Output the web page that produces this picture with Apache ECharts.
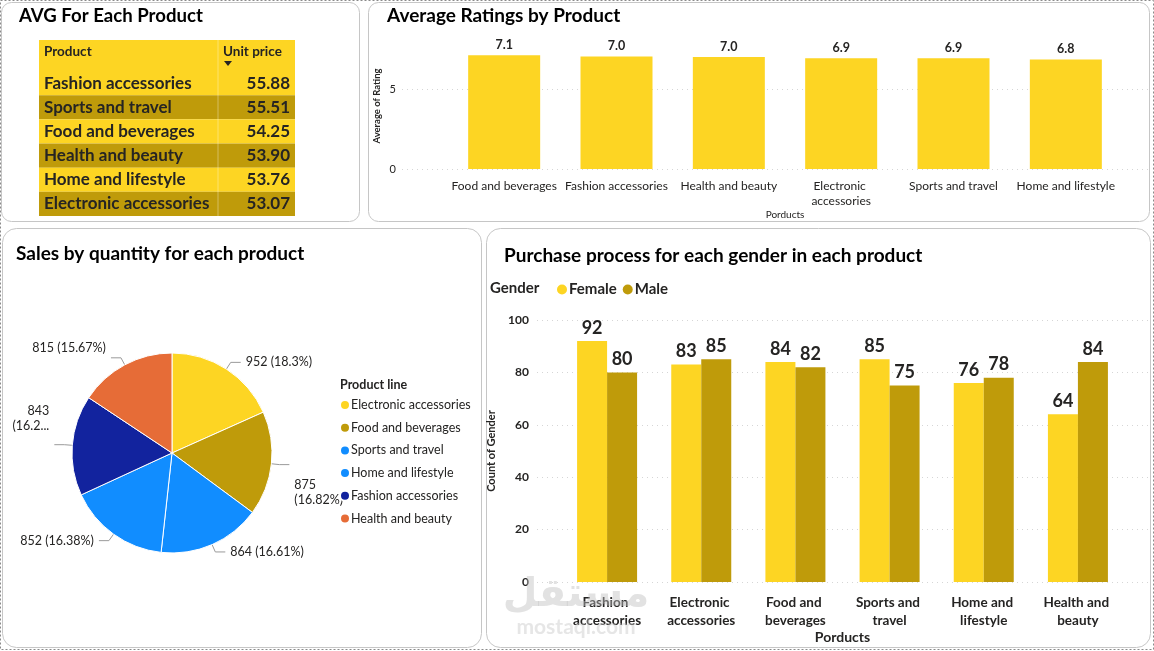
<!DOCTYPE html>
<html>
<head>
<meta charset="utf-8">
<script src="https://cdn.jsdelivr.net/npm/echarts@6/dist/echarts.min.js"></script>
<style>
html, body { margin: 0; padding: 0; background: #fff; }
#main { width: 1154px; height: 651px; }
</style>
</head>
<body>
<div id="main"></div>
<script>
// table: average unit price
var tableProducts = ['Fashion accessories', 'Sports and travel', 'Food and beverages', 'Health and beauty', 'Home and lifestyle', 'Electronic accessories'];
var tablePrices = [55.88, 55.51, 54.25, 53.90, 53.76, 53.07];

// average rating by product
var ratingProducts = ['Food and beverages', 'Fashion accessories', 'Health and beauty', 'Electronic accessories', 'Sports and travel', 'Home and lifestyle'];
var ratingValues = [7.11, 7.03, 7.00, 6.92, 6.92, 6.84];

// quantity by product line (pie)
var pieNames = ['Electronic accessories', 'Food and beverages', 'Sports and travel', 'Home and lifestyle', 'Fashion accessories', 'Health and beauty'];
var pieValues = [952, 875, 864, 852, 843, 815];

// gender count by product
var genderProducts = ['Fashion accessories', 'Electronic accessories', 'Food and beverages', 'Sports and travel', 'Home and lifestyle', 'Health and beauty'];
var femaleCounts = [92, 83, 84, 85, 76, 64];
var maleCounts = [80, 85, 82, 75, 78, 84];

var YELLOW = '#FDD523';
var GOLD = '#BF9B0A';
var TXT = '#252423';
var FONT = 'Lato, "Open Sans", sans-serif';
var pieColors = [YELLOW, GOLD, '#118DFF', '#118DFF', '#12239E', '#E66C37'];

var chart = echarts.init(document.getElementById('main'));

// panels + titles
var graphics = [
    { type: 'rect', silent: true, shape: { x: 0.5, y: 0.5, width: 1153, height: 649 }, style: { fill: 'none', stroke: '#8a8a8a', lineDash: [2, 2] } },
    { type: 'rect', silent: true, shape: { x: 1.5, y: 2.5, width: 358, height: 219, r: 10 }, style: { fill: '#fff', stroke: '#c6c6c6' } },
    { type: 'rect', silent: true, shape: { x: 368.5, y: 2.5, width: 781, height: 219, r: 10 }, style: { fill: '#fff', stroke: '#c6c6c6' } },
    { type: 'rect', silent: true, shape: { x: 2.5, y: 228.5, width: 479, height: 419, r: 14 }, style: { fill: '#fff', stroke: '#c6c6c6' } },
    { type: 'rect', silent: true, shape: { x: 486.5, y: 228.5, width: 664, height: 419, r: 14 }, style: { fill: '#fff', stroke: '#c6c6c6' } },
    { type: 'text', style: { text: 'AVG For Each Product', x: 19, y: 16, verticalAlign: 'middle', font: 'bold 18.6px ' + FONT, fill: '#000' } },
    { type: 'text', style: { text: 'Average Ratings by Product', x: 387, y: 16, verticalAlign: 'middle', font: 'bold 19px ' + FONT, fill: '#000' } },
    { type: 'text', style: { text: 'Sales by quantity for each product', x: 16, y: 254, verticalAlign: 'middle', font: 'bold 19px ' + FONT, fill: '#000' } },
    { type: 'text', style: { text: 'Purchase process for each gender in each product', x: 504, y: 256, verticalAlign: 'middle', font: 'bold 19px ' + FONT, fill: '#000' } },
    { type: 'text', style: { text: 'Average of Rating', x: 377, y: 106, align: 'center', verticalAlign: 'middle', font: 'bold 9.5px ' + FONT, fill: TXT }, rotation: Math.PI / 2, originX: 377, originY: 106 },
    { type: 'text', style: { text: 'Product line', x: 340, y: 385, verticalAlign: 'middle', font: 'bold 12.5px ' + FONT, fill: TXT } },
    { type: 'text', style: { text: 'Gender', x: 490, y: 288, verticalAlign: 'middle', font: 'bold 15px ' + FONT, fill: TXT } },
    // site watermark
    { type: 'text', silent: true, z: 100, style: { text: 'مستقل', x: 576, y: 596, align: 'center', verticalAlign: 'middle', font: 'bold 40px "DejaVu Sans", sans-serif', fill: 'rgba(190,190,190,0.45)' } },
    { type: 'text', silent: true, z: 100, style: { text: 'mostaql.com', x: 576, y: 627, align: 'center', verticalAlign: 'middle', font: 'bold 21px ' + FONT, fill: 'rgba(200,200,200,0.45)' } }
];

// table built from the arrays
var tX = 39, tW = 256, tTop = 40, headH = 31, rowH = 24.17, colX = 218;
graphics.push({ type: 'rect', silent: true, shape: { x: tX, y: tTop, width: tW, height: headH }, style: { fill: YELLOW } });
graphics.push({ type: 'text', style: { text: 'Product', x: 44, y: 52, verticalAlign: 'middle', font: 'bold 13.5px ' + FONT, fill: TXT } });
graphics.push({ type: 'text', style: { text: 'Unit price', x: 223, y: 52, verticalAlign: 'middle', font: 'bold 13.5px ' + FONT, fill: TXT } });
graphics.push({ type: 'polygon', silent: true, shape: { points: [[224, 61], [232, 61], [228, 66]] }, style: { fill: TXT } });
tableProducts.forEach(function (name, i) {
    var y = tTop + headH + i * rowH;
    graphics.push({ type: 'rect', silent: true, shape: { x: tX, y: y, width: tW, height: rowH }, style: { fill: i % 2 ? GOLD : YELLOW } });
    graphics.push({ type: 'text', style: { text: name, x: 44, y: y + rowH / 2, verticalAlign: 'middle', font: 'bold 17px ' + FONT, fill: TXT } });
    graphics.push({ type: 'text', style: { text: tablePrices[i].toFixed(2), x: 290, y: y + rowH / 2, align: 'right', verticalAlign: 'middle', font: 'bold 17px ' + FONT, fill: TXT } });
});
graphics.push({ type: 'line', silent: true, shape: { x1: colX, y1: tTop, x2: colX, y2: tTop + headH + rowH * tableProducts.length }, style: { stroke: 'rgba(255,255,255,0.35)', lineWidth: 1 } });

var pieTotal = pieValues.reduce(function (a, b) { return a + b; }, 0);
var cum = 0;
var pieData = pieNames.map(function (name, i) {
    var mid = (cum + pieValues[i] / 2) / pieTotal * Math.PI * 2;
    cum += pieValues[i];
    var side = Math.abs(Math.sin(mid)) > 0.95; // labels squeezed at the sides wrap
    return {
        name: name,
        value: pieValues[i],
        itemStyle: { color: pieColors[i] },
        label: { formatter: function (p) {
            var pct = parseFloat((p.value / pieTotal * 100).toFixed(2));
            return p.value + (side ? '\n' : ' ') + '(' + pct + '%)';
        } }
    };
});

var dotted = { show: true, lineStyle: { color: '#d6d6d6', type: [1, 4], width: 1 } };

chart.setOption({
    animation: false,
    textStyle: { fontFamily: FONT },
    graphic: graphics,
    legend: [
        {
            data: pieNames, orient: 'vertical', left: 334, top: 393,
            icon: 'circle', itemWidth: 10, itemHeight: 10, itemGap: 8.7,
            textStyle: { fontSize: 12.5, color: TXT, fontFamily: FONT, lineHeight: 14, padding: [0, 0, 0, -4] },
            selectedMode: false
        },
        {
            data: ['Female', 'Male'], left: 552, top: 277,
            icon: 'circle', itemWidth: 10, itemHeight: 10, itemGap: 6,
            textStyle: { fontSize: 15, fontWeight: 'bold', color: TXT, fontFamily: FONT, padding: [0, 0, 0, -3] },
            selectedMode: false
        }
    ],
    grid: [
        { left: 402, right: 6, top: 9, bottom: 482 },
        { left: 448, right: 32, top: 9, bottom: 482 },
        { left: 537, right: 6, top: 320, bottom: 69 },
        { left: 560, right: 29, top: 320, bottom: 69 }
    ],
    xAxis: [
        { gridIndex: 0, type: 'value', show: false },
        {
            gridIndex: 1, type: 'category', data: ratingProducts,
            axisLine: { show: false }, axisTick: { show: false },
            axisLabel: { margin: 10, fontSize: 12, color: TXT, lineHeight: 15, width: 108, overflow: 'break', interval: 0 },
            name: 'Porducts', nameLocation: 'middle', nameGap: 40,
            nameTextStyle: { fontSize: 10, color: TXT }
        },
        { gridIndex: 2, type: 'value', show: false },
        {
            gridIndex: 3, type: 'category', data: genderProducts,
            axisLine: { show: false }, axisTick: { show: false },
            axisLabel: { margin: 12, fontSize: 13.5, fontWeight: 'bold', color: TXT, lineHeight: 18, width: 80, overflow: 'break', interval: 0 },
            name: 'Porducts', nameLocation: 'middle', nameGap: 48,
            nameTextStyle: { fontSize: 14, fontWeight: 'bold', color: TXT }
        }
    ],
    yAxis: [
        {
            gridIndex: 0, type: 'value', min: 0, max: 10, interval: 5,
            axisLine: { show: false }, axisTick: { show: false },
            axisLabel: { showMaxLabel: false, margin: 6, fontSize: 11, color: TXT },
            splitLine: Object.assign({ showMaxLine: false }, dotted)
        },
        { gridIndex: 1, type: 'value', min: 0, max: 10, show: false, splitLine: { show: false } },
        {
            gridIndex: 2, type: 'value', min: 0, max: 100, interval: 20,
            axisLine: { show: false }, axisTick: { show: false },
            axisLabel: { margin: 8, fontSize: 12, fontWeight: 'bold', color: TXT },
            splitLine: dotted,
            name: 'Count of Gender', nameLocation: 'middle', nameGap: 40,
            nameTextStyle: { fontSize: 11, fontWeight: 'bold', color: TXT }
        },
        { gridIndex: 3, type: 'value', min: 0, max: 100, show: false, splitLine: { show: false } }
    ],
    series: [
        {
            name: 'Average of Rating', type: 'bar', xAxisIndex: 1, yAxisIndex: 1,
            data: ratingValues, barWidth: 72,
            itemStyle: { color: YELLOW },
            label: { show: true, position: 'top', distance: 4, fontSize: 12.5, fontWeight: 'bold', color: TXT,
                formatter: function (p) { return p.value.toFixed(1); } }
        },
        {
            name: 'Product line', type: 'pie', center: [172, 453], radius: 100,
            startAngle: 90, clockwise: true,
            data: pieData,
            itemStyle: { borderColor: '#fff', borderWidth: 1 },
            label: { fontSize: 12.5, color: TXT, fontFamily: FONT, lineHeight: 15 },
            labelLine: { length: 8, length2: 10, lineStyle: { color: '#9a9a9a' } },
            // the side labels sit lower / higher in the original
            labelLayout: function (p) {
                if (p.dataIndex === 1) return { dy: 28 };
                if (p.dataIndex === 4) return { dy: -26 };
                if (p.dataIndex === 5) return { dy: -10 };
                return {};
            }
        },
        {
            name: 'Female', type: 'bar', xAxisIndex: 3, yAxisIndex: 3,
            data: femaleCounts, barWidth: 30, barGap: '0%',
            itemStyle: { color: YELLOW },
            label: { show: true, position: 'top', distance: 4, fontSize: 18, fontWeight: 'bold', color: TXT }
        },
        {
            name: 'Male', type: 'bar', xAxisIndex: 3, yAxisIndex: 3,
            data: maleCounts, barWidth: 30, barGap: '0%',
            itemStyle: { color: GOLD },
            label: { show: true, position: 'top', distance: 4, fontSize: 18, fontWeight: 'bold', color: TXT }
        }
    ]
});
</script>
</body>
</html>
